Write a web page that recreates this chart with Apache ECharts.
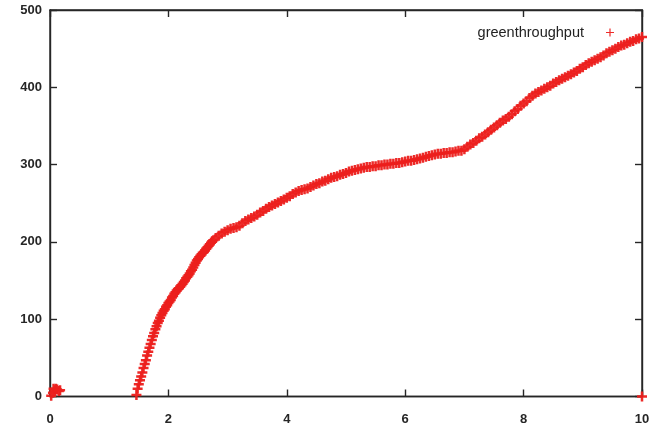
<!DOCTYPE html>
<html>
<head>
<meta charset="utf-8">
<script src="https://cdn.jsdelivr.net/npm/echarts@6/dist/echarts.min.js"></script>
<style>
html,body{margin:0;padding:0;background:#fff;}
#chart{width:661px;height:427px;}
</style>
</head>
<body>
<div id="chart"></div>
<script>
var seriesName = 'greenthroughput';
var xTicks = [0, 2, 4, 6, 8, 10];
var yTicks = [0, 100, 200, 300, 400, 500];

// small cluster near the origin and the last point at (10, 0)
var startX = [0.02, 0.05, 0.06, 0.08, 0.10, 0.12, 0.15, 0.17];
var startY = [1, 5, 10, 8, 10, 9, 7, 8];
var endX = [10];
var endY = [0];

// main curve
var curveX = [
1.46,1.48,1.50,1.52,1.54,1.56,1.58,1.60,1.62,1.64,1.66,1.68,1.70,1.72,1.74,1.76,1.78,1.80,1.82,1.84,
1.86,1.88,1.90,1.92,1.94,1.96,1.98,2.00,2.02,2.04,2.06,2.08,2.10,2.12,2.14,2.16,2.18,2.20,2.22,2.24,
2.26,2.28,2.30,2.32,2.34,2.36,2.38,2.40,2.42,2.44,2.46,2.48,2.50,2.52,2.54,2.56,2.58,2.60,2.62,2.64,
2.66,2.68,2.70,2.72,2.74,2.76,
2.80,2.85,2.90,2.95,3.00,3.05,3.10,3.15,3.20,3.25,3.30,3.35,3.40,3.45,3.50,3.55,3.60,3.65,3.70,3.75,
3.80,3.85,3.90,3.95,4.00,4.05,4.10,4.15,4.20,4.25,4.30,4.35,4.40,4.45,4.50,4.55,4.60,4.65,4.70,4.75,
4.80,4.85,4.90,4.95,5.00,5.05,5.10,5.15,5.20,5.25,5.30,5.35,5.40,5.45,5.50,5.55,5.60,5.65,5.70,5.75,
5.80,5.85,5.90,5.95,6.00,6.05,6.10,6.15,6.20,6.25,6.30,6.35,6.40,6.45,6.50,6.55,6.60,6.65,6.70,6.75,
6.80,6.85,6.90,6.95,7.00,7.05,7.10,7.15,7.20,7.25,7.30,7.35,7.40,7.45,7.50,7.55,7.60,7.65,7.70,7.75,
7.80,7.85,7.90,7.95,8.00,8.05,8.10,8.15,8.20,8.25,8.30,8.35,8.40,8.45,8.50,8.55,8.60,8.65,8.70,8.75,
8.80,8.85,8.90,8.95,9.00,9.05,9.10,9.15,9.20,9.25,9.30,9.35,9.40,9.45,9.50,9.55,9.60,9.65,9.70,9.75,
9.80,9.85,9.90,9.95,10.00
];
var curveY = [
2,10,16,21,26,31,37,42,47,53,58,63,68,73,78,82,87,91,95,98,
102,105,108,111,113,116,118,121,123,125,128,130,133,135,137,139,140,142,144,146,
148,150,153,155,157,159,162,164,167,170,173,176,178,180,182,184,186,187,189,191,
193,195,197,199,201,202,
205,208,211,213,215,217,218,219,221,224,227,229,231,233,235,238,240,243,245,247,
249,251,253,255,257,259,262,264,266,267,268,269,271,273,275,276,278,279,281,283,
284,285,287,288,289,291,292,293,294,295,296,297,297,298,298,299,299,300,300,301,
301,302,302,303,304,305,305,306,307,308,309,310,311,312,313,314,314,315,315,316,
316,317,318,318,320,323,326,328,331,334,336,339,342,345,348,351,354,357,359,362,
365,369,372,376,379,382,386,389,392,394,396,398,400,402,405,407,409,411,413,415,
417,419,421,424,426,429,431,433,435,437,439,441,444,446,448,450,452,454,455,457,
459,460,462,463,465
];

var allX = startX.concat(curveX, endX);
var allY = startY.concat(curveY, endY);
var points = allX.map(function (x, i) { return [x, allY[i]]; });

var plusPath = 'path://M3.0,0h2v3h3v2h-3v3h-2v-3h-3v-2h3z';
var thinPlus = 'path://M3.4,0h1.2v3.4h3.4v1.2h-3.4v3.4h-1.2v-3.4h-3.4v-1.2h3.4z';
var red = '#ec1f1c';
var dark = '#262626';

var chart = echarts.init(document.getElementById('chart'), null, {renderer: 'canvas'});

var labelStyle = {
  color: dark,
  fontFamily: 'Liberation Sans',
  fontWeight: 'bold',
  fontSize: 13
};

function axisBase(pos, showLabels, margin) {
  return {
    type: 'value',
    position: pos,
    axisLine: {show: true, onZero: false, lineStyle: {color: dark, width: 1.4}},
    axisTick: {show: true, inside: true, length: 7, lineStyle: {color: dark, width: 1.4}},
    axisLabel: showLabels ? Object.assign({margin: margin}, labelStyle) : {show: false},
    splitLine: {show: false}
  };
}

var xa0 = axisBase('bottom', true, 16);
var xa1 = axisBase('top', false, 0);
[xa0, xa1].forEach(function (a) { a.min = xTicks[0]; a.max = xTicks[xTicks.length - 1]; a.interval = 2; });
var ya0 = axisBase('left', true, 8);
var ya1 = axisBase('right', false, 0);
[ya0, ya1].forEach(function (a) { a.min = yTicks[0]; a.max = yTicks[yTicks.length - 1]; a.interval = 100; });

chart.setOption({
  animation: false,
  backgroundColor: '#ffffff',
  grid: {
    left: 50, right: 19, top: 10, bottom: 30.5,
    show: true, borderColor: dark, borderWidth: 1.4, backgroundColor: 'transparent'
  },
  legend: {
    show: true,
    right: 42,
    top: 20,
    align: 'right',
    itemWidth: 8,
    itemHeight: 8,
    data: [{name: seriesName, icon: thinPlus}],
    textStyle: {
      color: '#222222',
      fontFamily: 'Liberation Sans',
      fontSize: 14.5,
      padding: [0, 17, 0, 0]
    },
    selectedMode: false
  },
  xAxis: [xa0, xa1],
  yAxis: [ya0, ya1],
  series: [{
    name: seriesName,
    type: 'scatter',
    xAxisIndex: 0,
    yAxisIndex: 0,
    symbol: plusPath,
    symbolSize: 10,
    clip: false,
    itemStyle: {color: red, opacity: 0.95},
    data: points
  }]
});
</script>
</body>
</html>
